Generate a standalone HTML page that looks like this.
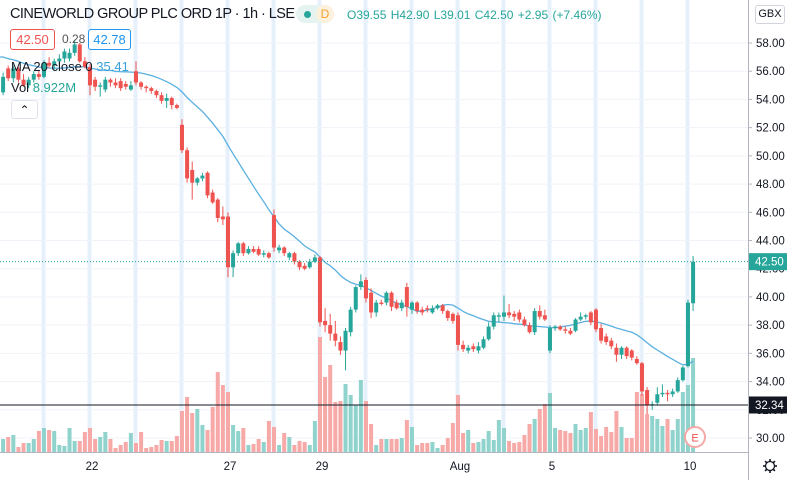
<!DOCTYPE html>
<html><head><meta charset="utf-8"><style>
html,body{margin:0;padding:0;background:#fff;width:793px;height:480px;overflow:hidden;font-family:"Liberation Sans",sans-serif;}
#wrap{position:relative;width:793px;height:480px;}
svg{position:absolute;left:0;top:0;}
.lg{position:absolute;font-size:13px;color:#131722;white-space:nowrap;}
</style></head><body>
<div id="wrap">
<svg id="chart" width="793" height="480"></svg>
<div class="lg" style="left:10px;top:6px;font-size:14.5px;letter-spacing:-0.55px;">CINEWORLD GROUP PLC ORD 1P · 1h · LSE</div>
<div style="position:absolute;left:296px;top:5px;width:38px;height:18px;border-radius:9px;background:#e6f4f1;">
 <span style="position:absolute;left:8px;top:6px;width:7px;height:7px;border-radius:50%;background:#26a69a;"></span>
 <span style="position:absolute;left:20px;top:0;width:18px;height:18px;border-radius:9px;background:#fdf1dd;color:#f4a12d;font-size:12px;line-height:18px;text-align:center;">D</span>
</div>
<div class="lg" style="left:347px;top:8px;color:#26a69a;font-size:12px;word-spacing:1px;">O39.55 H42.90 L39.01 C42.50 +2.95 (+7.46%)</div>
<div style="position:absolute;left:755px;top:5px;width:28px;height:17px;border:1px solid #d1d4dc;border-radius:3px;font-size:11px;line-height:17px;text-align:center;color:#131722;background:#fff;">GBX</div>
<div style="position:absolute;left:10px;top:29px;width:43px;height:19px;border:1px solid #ef5350;border-radius:3px;color:#ef5350;font-size:13px;line-height:19px;text-align:center;background:#fff;">42.50</div>
<div class="lg" style="left:62px;top:32px;font-size:12px;color:#555;">0.28</div>
<div style="position:absolute;left:88px;top:29px;width:41px;height:19px;border:1px solid #2196f3;border-radius:3px;color:#2196f3;font-size:13px;line-height:19px;text-align:center;background:#fff;">42.78</div>
<div class="lg" style="left:11px;top:59px;">MA 20 close 0 <span style="color:#3ba0d8;">35.41</span></div>
<div class="lg" style="left:11px;top:80px;">Vol <span style="color:#26a69a;">8.922M</span></div>
<div style="position:absolute;left:11px;top:100px;width:25px;height:17px;border:1px solid #e0e3eb;border-radius:3px;background:#fff;font-size:12px;line-height:19px;text-align:center;color:#131722;">&#8963;</div>
</div>
<script>
const opens=[54.5,56.2,55.5,56.2,55.4,55.0,55.4,55.8,55.6,56.6,56.4,56.7,56.9,56.9,57.3,57.9,56.7,
56.3,55.4,54.9,54.7,55.4,55.2,55.3,55.1,54.7,
56.0,55.2,54.9,54.8,54.6,54.3,53.9,54.1,53.6,
52.2,50.4,49.0,48.1,48.4,48.8,47.4,46.9,45.7,
45.7,42.1,43.1,43.8,43.1,43.4,43.4,43.0,43.1,
45.8,43.3,43.5,42.8,43.1,42.5,42.2,42.1,42.5,
42.8,38.3,38.0,37.4,36.8,36.2,37.5,39.1,40.7,
41.2,40.3,38.9,39.6,39.6,40.3,39.6,39.2,40.7,
39.1,39.6,39.1,39.2,38.9,39.2,39.4,39.0,38.8,
38.7,36.6,36.2,36.5,36.2,36.4,37.0,37.9,38.6,
38.6,38.9,38.8,38.9,38.4,38.0,37.5,39.0,38.7,
36.2,37.8,37.9,37.7,37.6,37.6,38.4,38.6,38.9,
39.1,37.8,37.2,36.9,36.4,35.9,36.4,36.2,35.6,
35.3,33.4,32.3,32.5,33.1,33.2,33.1,33.3,34.1,
35.1,39.55];
const highs=[55.9,56.4,56.4,56.3,55.8,55.6,56.0,56.1,56.8,57.0,56.9,57.2,57.6,57.6,58.2,58.0,57.0,
56.5,55.6,55.2,55.6,55.5,55.5,55.5,55.3,55.3,
56.7,55.3,55.0,54.9,54.7,54.5,54.4,54.2,53.7,
52.6,50.6,49.6,48.5,48.8,48.9,47.6,47.0,46.4,
46.0,43.3,43.9,43.9,43.6,43.6,43.6,43.3,43.2,
46.2,43.7,43.6,43.2,43.2,42.6,42.4,42.7,43.0,
42.9,39.2,38.8,38.3,37.2,37.8,39.3,40.8,41.6,
41.4,40.6,39.8,39.8,40.4,40.4,39.8,39.8,41.0,
39.7,39.7,39.3,39.4,39.4,39.5,39.5,39.1,38.9,
38.9,36.9,36.6,36.7,36.8,37.2,38.2,38.9,38.9,
40.1,39.5,39.0,39.1,38.6,38.2,39.2,39.4,39.1,
38.0,38.0,38.0,37.9,37.8,38.5,38.9,38.8,39.0,
39.2,38.1,37.4,37.1,36.7,36.5,36.5,36.3,35.8,
35.4,33.6,32.6,33.6,33.8,33.4,33.5,34.3,35.1,
39.8,42.90];
const lows=[54.3,55.3,55.2,55.2,54.9,54.8,55.2,55.4,55.5,56.2,56.1,56.4,56.6,56.7,57.1,56.6,56.2,
54.3,54.6,54.2,54.5,54.9,54.8,54.6,54.7,54.6,
55.0,54.7,54.5,54.4,54.1,53.7,53.4,53.3,53.3,
50.2,48.1,46.9,47.9,48.2,47.0,46.6,45.3,45.1,
41.4,41.4,42.9,42.9,43.0,43.1,42.9,42.8,42.7,
43.2,43.1,42.9,42.6,42.3,41.9,41.9,42.0,42.4,
37.9,37.5,36.9,36.5,35.9,34.8,37.2,38.9,40.5,
39.6,38.5,38.6,39.4,39.4,39.0,39.1,39.0,38.6,
38.8,38.8,38.7,38.9,38.8,39.1,38.8,38.3,38.1,
36.2,36.1,36.0,36.1,36.0,36.3,36.9,37.7,38.2,
38.3,38.5,38.3,38.2,37.9,37.4,37.3,38.4,38.3,
36.0,37.6,37.6,37.4,37.3,37.5,38.3,38.4,38.0,
37.5,36.7,36.6,36.3,35.4,35.6,35.6,35.5,35.2,
33.0,31.7,32.0,32.3,32.9,32.6,32.9,33.2,34.0,
35.0,39.01];
const closes=[55.6,55.5,56.2,55.4,55.0,55.4,55.8,55.6,56.6,56.4,56.7,56.9,57.4,57.3,57.9,56.7,56.3,
55.0,54.9,55.0,55.4,55.2,55.0,54.8,54.9,55.0,
55.2,54.9,54.8,54.6,54.3,53.9,54.1,53.6,53.4,
50.4,48.4,48.1,48.4,48.6,47.2,46.7,45.6,45.5,
42.1,43.1,43.8,43.1,43.4,43.2,43.0,43.1,42.8,
43.5,43.5,43.1,43.1,42.5,42.1,42.0,42.5,42.8,
38.2,38.0,37.4,36.9,36.2,37.6,39.1,40.7,41.1,
39.9,38.9,39.6,39.5,40.3,39.3,39.2,39.6,39.3,
39.6,39.0,38.9,39.1,39.2,39.4,39.0,38.5,38.3,
36.6,36.3,36.4,36.3,36.5,37.0,37.9,38.7,38.7,
38.9,38.7,38.6,38.4,38.0,37.5,39.0,38.6,38.4,
37.8,37.9,37.7,37.6,37.4,38.4,38.6,38.7,38.2,
37.7,36.9,36.8,36.5,35.9,36.4,35.8,35.7,35.3,
33.3,32.3,32.4,33.1,33.2,33.1,33.3,34.1,35.0,
39.6,42.5];
const volumes=[13,15,17,5,9,9,13,21,24,22,21,7,6,24,11,11,20,24,13,15,20,13,4,7,10,19,9,
20,4,5,7,12,11,11,16,41,55,39,43,27,22,45,80,67,60,27,21,24,7,8,13,10,31,
25,7,19,15,7,11,10,7,31,115,75,87,50,51,68,57,47,72,51,28,7,13,13,
13,13,14,32,25,7,9,9,10,4,7,14,29,57,19,22,9,10,13,21,12,32,24,11,9,10,17,28,33,43,48,
59,24,22,21,19,28,22,24,40,23,16,25,20,41,25,14,14,60,58,38,36,33,26,33,22,33,60,67,94];
const priorCloses=[57.8,57.6,57.9,57.5,57.7,57.2,57.4,57.0,57.3,56.9,57.1,56.8,57.0,56.6,56.9,56.4,56.7,56.2,56.5];
const priceTicks=[30,32,34,36,38,40,42,44,46,48,50,52,54,56,58];
const dateLabels=["22","27","29","Aug","5","10"];
const dateIndex=[17,44,62,89,107,134];
const lastPrice=42.50, linePrice=32.34;

const NS="http://www.w3.org/2000/svg";
const svg=document.getElementById('chart');
const PL=0,PR=748,AXB=452;
function yP(p){return 438-(p-30)*14.107;}
function xI(i){return 3.1+i*5.111;}
function yV(v){return AXB-v*1.0;}
function mk(t,a,parent){const e=document.createElementNS(NS,t);for(const k in a)e.setAttribute(k,a[k]);(parent||svg).appendChild(e);return e;}

const gB=mk('g',{});


for(let i=8;i<closes.length;i+=9){
 const r=mk('rect',{x:xI(i)-2.5,y:0,width:4,height:AXB,fill:'#e6f0fb'},gB);
 
 
}
const gG=mk('g',{});


priceTicks.forEach(p=>{
 const l=mk('line',{x1:0,x2:PR,y1:yP(p),y2:yP(p),stroke:'#f0f3fa','stroke-width':1},gG);
 
 
});
const gV=mk('g',{});


volumes.forEach((v,i)=>{
 const up=closes[i]>=opens[i];
 const r=mk('rect',{x:xI(i)-2,y:yV(v),width:4,height:AXB-yV(v),fill:up?'#8fd3cc':'#f7a9a7'},gV);
 
 
});
const all=priorCloses.concat(closes);
let pts=[];
for(let i=0;i<closes.length;i++){
 const k=i+priorCloses.length;let s=0;
 for(let j=k-19;j<=k;j++)s+=all[j];
 pts.push(xI(i).toFixed(1)+','+yP(s/20).toFixed(1));
}
pts.unshift('0,'+pts[0].split(',')[1]);
const ma=mk('polyline',{points:pts.join(' '),fill:'none',stroke:'#5ab0e0','stroke-width':1.3});


const gC=mk('g',{});


closes.forEach((c,i)=>{
 const o=opens[i],up=c>=o,col=up?'#26a69a':'#ef5350',x=xI(i);
 const w=mk('line',{x1:x,x2:x,y1:yP(highs[i]),y2:yP(lows[i]),stroke:col,'stroke-width':1},gC);
 
 
 const top=yP(Math.max(o,c)),h=Math.max(1,yP(Math.min(o,c))-top);
 const b=mk('rect',{x:x-2,y:top,width:4,height:h,fill:col},gC);
 
 
});
const lp=mk('line',{x1:0,x2:PR,y1:yP(lastPrice),y2:yP(lastPrice),stroke:'#26a69a','stroke-width':1,'stroke-dasharray':'1,2'});


const hl=mk('line',{x1:0,x2:PR,y1:yP(linePrice),y2:yP(linePrice),stroke:'#131722','stroke-width':1});


const eg=mk('g',{});


mk('circle',{cx:695,cy:437,r:10,fill:'#fff',stroke:'#f7a9a7','stroke-width':2},eg);
const et=mk('text',{x:695,y:441.5,'text-anchor':'middle','font-size':11,fill:'#ef5350','font-family':'Liberation Sans, sans-serif'},eg);
et.textContent='E';
mk('rect',{x:PR,y:0,width:45,height:480,fill:'#fff'});
mk('rect',{x:0,y:AXB,width:793,height:28,fill:'#fff'});
const ay=mk('line',{x1:PR+0.5,x2:PR+0.5,y1:0,y2:480,stroke:'#b2b5be','stroke-width':1});


const ax=mk('line',{x1:0,x2:PR,y1:AXB+0.5,y2:AXB+0.5,stroke:'#b2b5be','stroke-width':1});


const gT=mk('g',{});


priceTicks.forEach(p=>{
 mk('line',{x1:PR,x2:PR+4,y1:yP(p),y2:yP(p),stroke:'#b2b5be'},gT);
 const t=mk('text',{x:756,y:yP(p)+4,'font-size':11.5,fill:'#131722','font-family':'Liberation Sans, sans-serif'},gT);
 
 
 t.textContent=p.toFixed(2);
});
function tag(p,bg,name){
 const g=mk('g',{});
 
 
 mk('rect',{x:PR+1,y:yP(p)-8.5,width:38,height:17,fill:bg},g);
 const t=mk('text',{x:755,y:yP(p)+4,'font-size':11.5,fill:'#fff','font-family':'Liberation Sans, sans-serif'},g);
 t.textContent=p.toFixed(2);
}
tag(lastPrice,'#26a69a','last-price-label');
tag(linePrice,'#131722','horizontal-line-label');
const gX=mk('g',{});


dateLabels.forEach((d,k)=>{
 const t=mk('text',{x:xI(dateIndex[k])+2,y:470,'text-anchor':'middle','font-size':11.5,fill:'#131722','font-family':'Liberation Sans, sans-serif'},gX);
 
 
 t.textContent=d;
});
const gg=mk('g',{transform:'translate(770,466)'});


mk('circle',{cx:0,cy:0,r:4.5,fill:'none',stroke:'#131722','stroke-width':1.3},gg);
for(let a=0;a<8;a++){const r=a*Math.PI/4;mk('line',{x1:4.5*Math.cos(r),y1:4.5*Math.sin(r),x2:7*Math.cos(r),y2:7*Math.sin(r),stroke:'#131722','stroke-width':1.6},gg);}
</script>
</body></html>
